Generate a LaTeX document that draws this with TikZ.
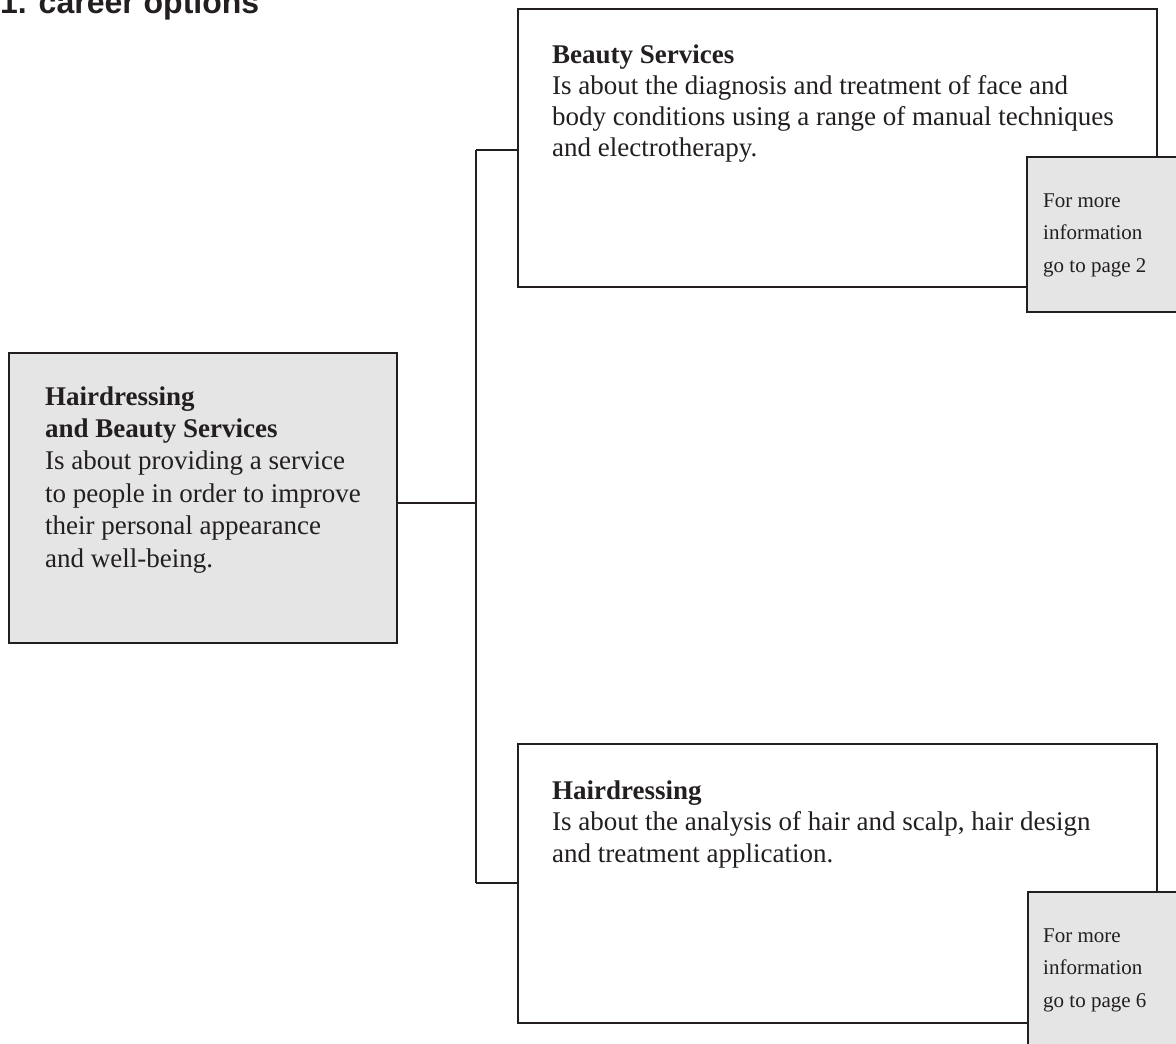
\documentclass[tikz,border=0pt]{standalone}
\usepackage{fontspec}
\setmainfont{Liberation Serif}
\newfontfamily\titlefont{Liberation Sans}
\definecolor{boxgray}{HTML}{E5E5E5}
\definecolor{ink}{HTML}{231F20}
\begin{document}
\begin{tikzpicture}[x=1pt,y=-1pt,
  bigbox/.style={draw=ink, line width=2.2pt, inner sep=0pt, fill=white},
  graybox/.style={draw=ink, line width=2.2pt, inner sep=0pt, fill=boxgray},
  link/.style={draw=ink, line width=2pt},
  bodytext/.style={anchor=base west, inner sep=0pt, text=ink}]
\useasboundingbox (0,0) rectangle (1176,1044);
\clip (0,0) rectangle (1176,1044);

% title
\node[anchor=base west, inner sep=0pt, text=ink,
      font=\titlefont\bfseries\fontsize{32}{36}\selectfont] (title) at (0,13) {1. career options};

% boxes
\node[graybox, minimum width=388pt, minimum height=290pt] (main) at (203,498) {};
\node[bigbox, minimum width=639pt, minimum height=278pt] (beauty) at (837.5,148) {};
\node[graybox, minimum width=173pt, minimum height=155pt] (beautyinfo) at (1113.5,234.5) {};
\node[bigbox, minimum width=639pt, minimum height=279pt] (hair) at (837.5,883.5) {};
\node[graybox, minimum width=172pt, minimum height=178pt] (hairinfo) at (1114,981) {};

% connectors
\coordinate (top) at (476,150);
\coordinate (hub) at (476,503);
\coordinate (bot) at (476,883);
\draw[link] (top) -- (bot);
\draw[link] (main.east |- hub) -- (hub);
\draw[link] (top) -- (top -| beauty.west);
\draw[link] (bot) -- (bot -| hair.west);

% texts
\node[bodytext] (maintext) at (45,405) {\parbox[t]{340pt}{\fontsize{27}{32.4}\selectfont
  \textbf{Hairdressing}\\
  \textbf{and Beauty Services}\\
  Is about providing a service\\
  to people in order to improve\\
  their personal appearance\\
  and well-being.}};

\node[bodytext] (beautytext) at (552,63) {\parbox[t]{600pt}{\fontsize{27}{31.3}\selectfont
  \textbf{Beauty Services}\\
  Is about the diagnosis and treatment of face and\\
  body conditions using a range of manual techniques\\
  and electrotherapy.}};

\node[bodytext] (beautyinfotext) at (1043,207) {\parbox[t]{130pt}{\fontsize{21}{32.5}\selectfont
  For more\\
  information\\
  go to page 2}};

\node[bodytext] (hairtext) at (552,799) {\parbox[t]{600pt}{\fontsize{27}{31.5}\selectfont
  \textbf{Hairdressing}\\
  Is about the analysis of hair and scalp, hair design\\
  and treatment application.}};

\node[bodytext] (hairinfotext) at (1043,942) {\parbox[t]{130pt}{\fontsize{21}{32.5}\selectfont
  For more\\
  information\\
  go to page 6}};
\end{tikzpicture}
\end{document}
